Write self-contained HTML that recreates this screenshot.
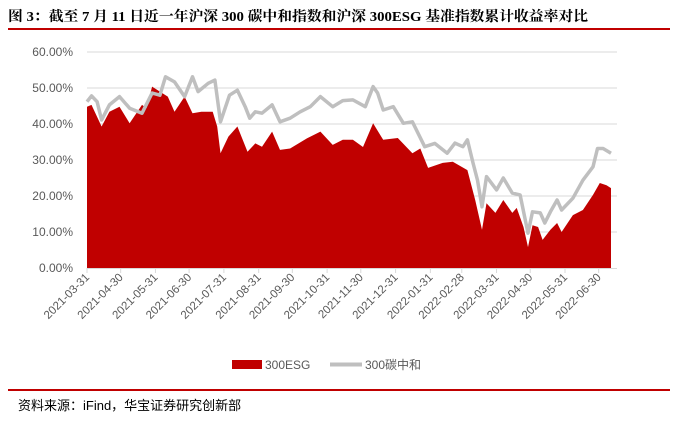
<!DOCTYPE html>
<html><head><meta charset="utf-8"><style>
body{margin:0;background:#fff;width:676px;height:424px;overflow:hidden;font-family:"Liberation Sans","Noto Sans CJK SC",sans-serif;}
svg{display:block}
</style></head><body>
<svg id="c" width="676" height="424">
<text x="8" y="21" font-size="14" font-weight="bold" fill="#000" textLength="580" lengthAdjust="spacingAndGlyphs" font-family="Liberation Serif, Noto Serif CJK SC, serif">图 3：截至 7 月 11 日近一年沪深 300 碳中和指数和沪深 300ESG 基准指数累计收益率对比</text>
<rect x="8" y="28" width="662" height="2" fill="#c00000"/>
<g id="grid"></g>
<g id="series"></g>
<g id="xaxis"></g>
<g>
<rect x="232" y="360" width="30" height="9" fill="#c00000"/>
<text x="265" y="369" font-size="12" fill="#595959">300ESG</text>
<line x1="330" y1="364.5" x2="362" y2="364.5" stroke="#bfbfbf" stroke-width="4"/>
<text x="365" y="369" font-size="12" fill="#595959">300碳中和</text>
</g>
<rect x="8" y="389" width="662" height="2" fill="#c00000"/>
<text x="18" y="410" font-size="13" fill="#000">资料来源：iFind，华宝证券研究创新部</text>
</svg>
<script>
const yTicks=[0,10,20,30,40,50,60];
const xTickLabels=["2021-03-31","2021-04-30","2021-05-31","2021-06-30","2021-07-31","2021-08-31","2021-09-30","2021-10-31","2021-11-30","2021-12-31","2022-01-31","2022-02-28","2022-03-31","2022-04-30","2022-05-31","2022-06-30"];
const xTickDays=[0,30,61,91,122,153,183,214,244,275,306,334,365,395,426,456];
const esgDays=[0,4,13,20,29,38,49,53,58,65,72,78,87,94,102,112,116,119,126,134,143,150,156,165,172,181,196,208,219,228,237,246,255,264,277,290,297,304,317,326,339,346,352,356,364,371,379,383,389,393,397,402,406,413,419,423,433,442,451,457,463,467];
const esgVals=[44.8,45.3,39.3,43.4,44.8,40.2,45.3,44.4,50.4,49,47.6,43.4,47.6,43,43.4,43.4,39.3,31.9,36.5,39.3,32.3,34.6,33.7,37.9,32.8,33.2,36,37.9,34.2,35.6,35.6,33.6,40.2,35.6,36.1,31.9,33.2,27.8,29.2,29.5,27.2,18.9,10.6,18,15.3,18.9,15.3,16.7,11.4,5.8,11.9,11.4,7.8,10.6,12.5,10,14.7,16.1,20.3,23.6,23,22.2];
const carbonDays=[0,4,9,13,20,29,38,49,58,65,70,78,87,94,99,108,114,119,127,134,141,145,150,156,165,172,181,190,199,208,219,228,237,248,255,259,264,273,282,290,301,310,321,328,335,339,344,348,352,356,365,371,379,386,393,397,404,408,413,419,423,433,442,451,455,460,467];
const carbonVals=[46.2,47.8,46.2,41.1,45.3,47.6,44.4,43,48.6,48,53.1,51.7,47.6,53.1,49,51.3,52.2,40.6,48,49.4,44.8,41.6,43.4,43,45.3,40.6,41.6,43.4,44.8,47.6,44.8,46.5,46.7,44.8,50.4,48.6,43.9,44.8,40.2,40.6,33.7,34.6,31.9,34.7,33.7,35.6,29.2,24.4,17,25.4,21.7,25,20.8,20.3,9.7,15.6,15.3,12.5,15.6,18.9,16.1,19.4,24.4,28.1,33.2,33.2,31.9];
const X0=87,X1=611,Y0=268,YTOP=52,DMAX=467;
const xs=d=>X0+(X1-X0)*d/DMAX;
const ys=v=>Y0-(Y0-YTOP)*v/60;
const NS="http://www.w3.org/2000/svg";
function mk(tag,attrs,parent){const e=document.createElementNS(NS,tag);for(const k in attrs)e.setAttribute(k,attrs[k]);parent.appendChild(e);return e;}
const grid=document.getElementById('grid'),ser=document.getElementById('series'),xa=document.getElementById('xaxis');
yTicks.forEach(t=>{
 if(t>0){const g=mk('line',{x1:X0,x2:617,y1:ys(t),y2:ys(t),stroke:'#d9d9d9','stroke-width':1},grid);
 
 }
 const l=mk('text',{x:73,y:ys(t)+4,'text-anchor':'end','font-size':12,fill:'#595959'},grid);
 l.textContent=t.toFixed(2)+'%';
 
 
});
let p='M'+xs(esgDays[0])+','+Y0;
esgDays.forEach((d,i)=>{p+=' L'+xs(d).toFixed(1)+','+ys(esgVals[i]).toFixed(1);});
p+=' L'+xs(esgDays[esgDays.length-1])+','+Y0+' Z';
const a=mk('path',{d:p,fill:'#c00000'},ser);


let q='';
carbonDays.forEach((d,i)=>{q+=(i?' L':'M')+xs(d).toFixed(1)+','+ys(carbonVals[i]).toFixed(1);});
const ln=mk('path',{d:q,fill:'none',stroke:'#bfbfbf','stroke-width':3.5,'stroke-linejoin':'round'},ser);


const ax=mk('line',{x1:X0,x2:617,y1:Y0+0.5,y2:Y0+0.5,stroke:'#d9d9d9','stroke-width':1},xa);


xTickDays.forEach((d,i)=>{
 const x=xs(d);
 const tk=mk('line',{x1:x,x2:x,y1:Y0,y2:Y0+5,stroke:'#d9d9d9'},xa);
 
 
 const t=mk('text',{x:x+3,y:Y0+10,'text-anchor':'end','font-size':11.5,fill:'#595959',transform:`rotate(-45 ${x+3} ${Y0+10})`},xa);
 t.textContent=xTickLabels[i];
 
 
});
</script>
</body></html>
